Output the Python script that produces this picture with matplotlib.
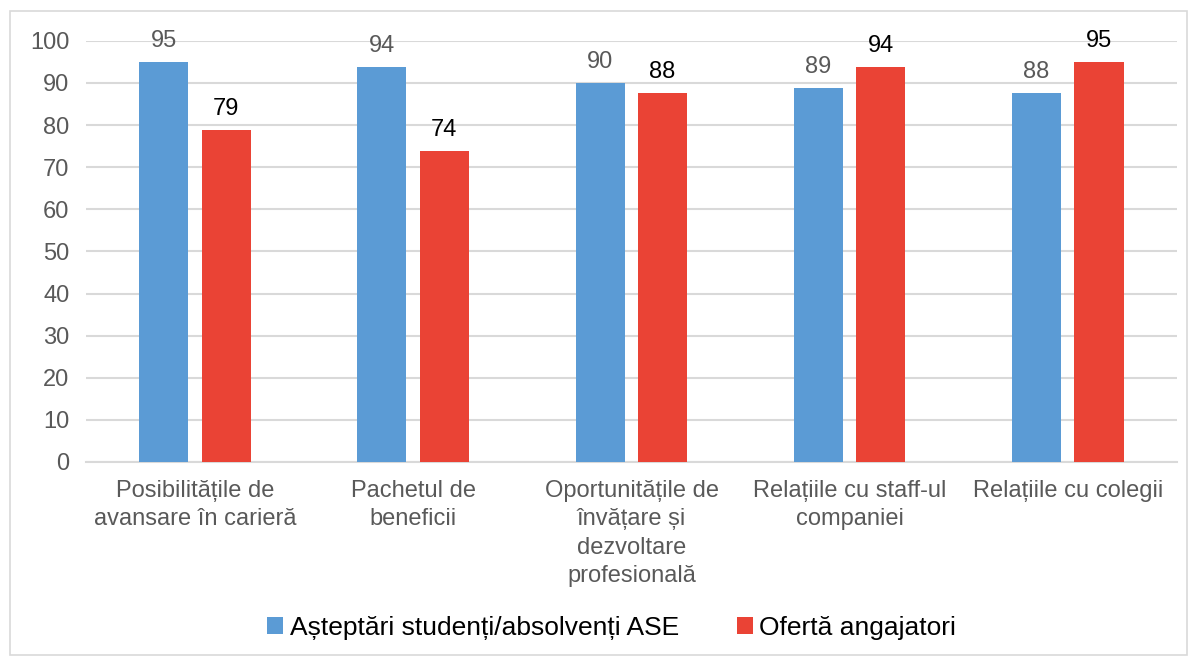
import matplotlib.pyplot as plt
import matplotlib.patches as mpatches
import numpy as np

plt.rcParams["font.family"] = ["Liberation Sans", "DejaVu Sans"]

categories = [
    "Posibilitățile de\navansare în carieră",
    "Pachetul de\nbeneficii",
    "Oportunitățile de\nînvățare și\ndezvoltare\nprofesională",
    "Relațiile cu staff-ul\ncompaniei",
    "Relațiile cu colegii",
]
asteptari = [95.0, 93.8, 90.0, 88.8, 87.6]
oferta = [78.9, 73.9, 87.6, 93.8, 95.0]
series_names = ["Așteptări studenți/absolvenți ASE", "Ofertă angajatori"]

blue = "#5B9BD5"
red = "#EA4335"
gray = "#595959"
grid = "#D9D9D9"

fig = plt.figure(figsize=(11.95, 6.59), dpi=100)
ax = fig.add_axes([0.072, 0.299, 0.913, 0.639])

x = np.arange(len(categories))
w = 0.225
b1 = ax.bar(x - 0.144, asteptari, w, color=blue, label=series_names[0], zorder=3)
b2 = ax.bar(x + 0.142, oferta, w, color=red, label=series_names[1], zorder=3)

for rect, v in zip(b1, asteptari):
    ax.annotate(f"{round(v)}", (rect.get_x() + rect.get_width() / 2, v),
                xytext=(0, 7), textcoords="offset points", ha="center", va="bottom",
                fontsize=17, color=gray)
for rect, v in zip(b2, oferta):
    ax.annotate(f"{round(v)}", (rect.get_x() + rect.get_width() / 2, v),
                xytext=(0, 7), textcoords="offset points", ha="center", va="bottom",
                fontsize=17, color="black")

ax.set_xlim(-0.5, len(categories) - 0.5)
ax.set_ylim(0, 100)
ax.set_yticks(range(0, 101, 10))
ax.yaxis.grid(True, color=grid, linewidth=1.5, zorder=0)
ax.set_axisbelow(True)
ax.set_xticks(x)
ax.set_xticklabels(categories, fontsize=17, color=gray, linespacing=1.38, va="top")
ax.tick_params(axis="both", length=0, labelsize=17, labelcolor=gray)
ax.tick_params(axis="x", pad=13)
ax.tick_params(axis="y", pad=12)
for s in ["top", "right", "left"]:
    ax.spines[s].set_visible(False)
ax.spines["bottom"].set_color(grid)
ax.spines["bottom"].set_linewidth(1.5)

fig.legend(handles=[b1, b2], loc="center", bbox_to_anchor=(0.512, 0.047), ncol=2,
           frameon=False, fontsize=19, handlelength=0.6, handleheight=0.6,
           handletextpad=0.25, columnspacing=2.2)

fig.add_artist(mpatches.Rectangle((0.008, 0.006), 0.985, 0.977, transform=fig.transFigure,
                                  fill=False, edgecolor=grid, linewidth=1.2))

fig.savefig("out.png", dpi=100)
